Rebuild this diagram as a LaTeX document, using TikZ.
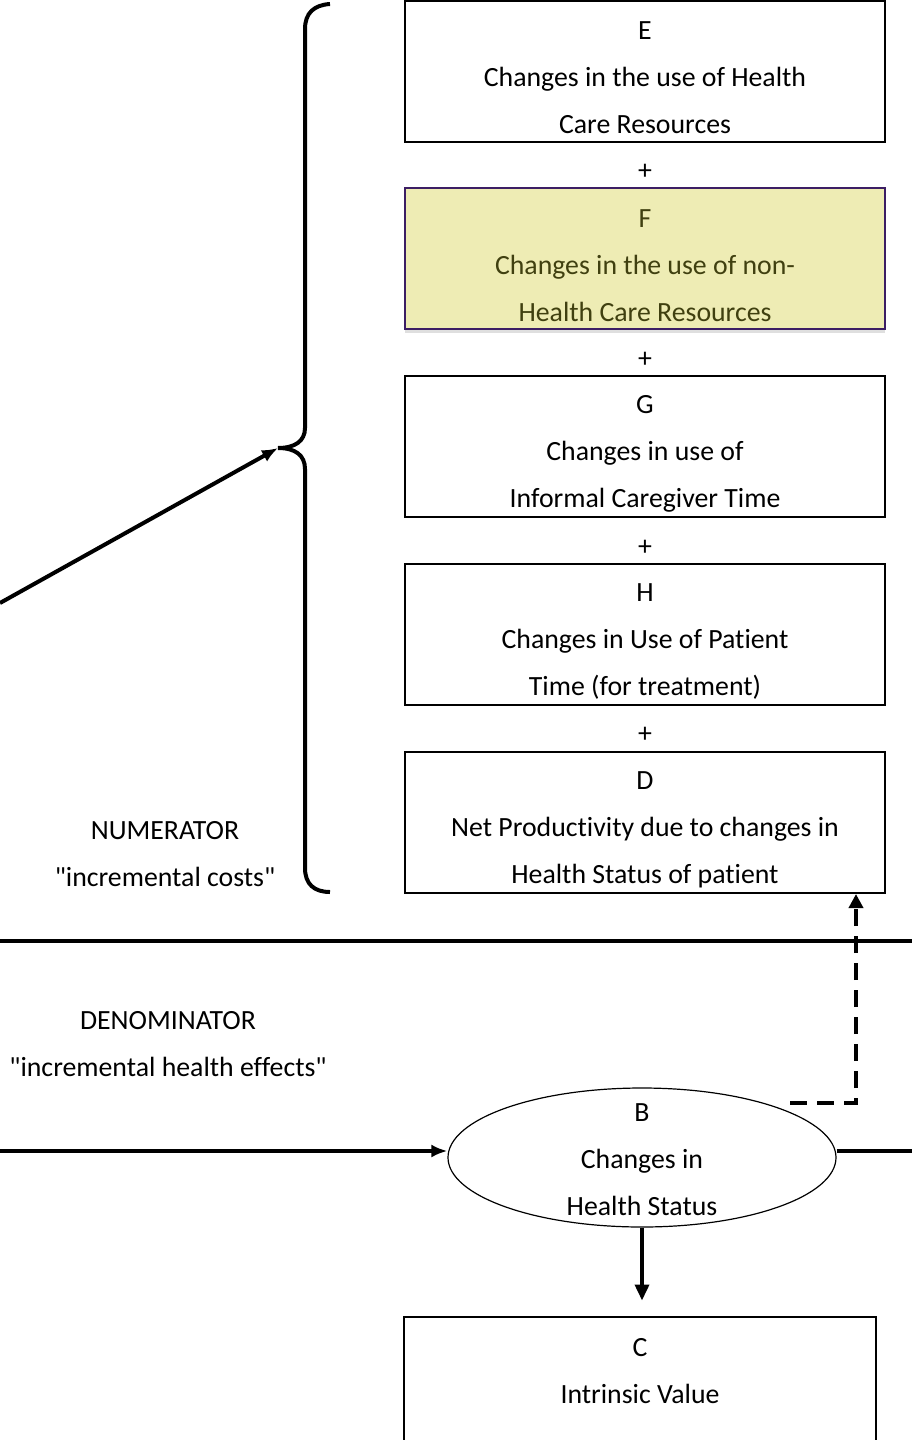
\documentclass[tikz,border=0pt]{standalone}
\usepackage{fontspec}
\setmainfont{Carlito}[Ligatures={TeX,NoCommon}, Contextuals=NoAlternate]
\usetikzlibrary{arrows.meta,shapes.geometric,shadows,calc}
\definecolor{Ffill}{RGB}{238,236,180}
\definecolor{Fdraw}{RGB}{60,30,100}
\definecolor{Ftext}{RGB}{64,64,16}
\begin{document}
\begin{tikzpicture}[x=0.5pt,y=-0.5pt,
  every node/.style={font=\fontsize{13.9}{23.5}\selectfont},
  box/.style={draw=black, line width=1pt, rectangle, minimum width=240pt, minimum height=70.5pt, inner sep=0pt},
  fbox/.style={box, draw=Fdraw, fill=Ffill, drop shadow={shadow xshift=0pt, shadow yshift=-2pt, opacity=0.25}},
  txt/.style={align=center, inner sep=0pt},
  plus/.style={inner sep=0pt},
  thickline/.style={line width=2pt},
  arr/.style={line width=2pt, -{Latex[length=8pt,width=6.5pt]}},
  dasharr/.style={line width=2pt, dash pattern=on 8.5pt off 5pt, -{Triangle[length=7pt,width=7pt]}}
]
\useasboundingbox (0,0) rectangle (912,1440);

% boxes
\node[box] (E) at (645,71) {};
\node[txt] (Et) at (645,78) {E\\Changes in the use of Health\\Care Resources};
\node[plus] (p1) at (645,172) {+};
\node[fbox] (F) at (645,258) {};
\node[txt, text=Ftext] (Ft) at (645,266) {F\\Changes in the use of non-\\Health Care Resources};
\node[plus] (p2) at (645,360) {+};
\node[box] (G) at (645,446.5) {};
\node[txt] (Gt) at (645,453.5) {G\\Changes in use of\\Informal Caregiver Time};
\node[plus] (p3) at (645,548) {+};
\node[box] (H) at (645,634.5) {};
\node[txt] (Ht) at (645,641.5) {H\\Changes in Use of Patient\\Time (for treatment)};
\node[plus] (p4) at (645,735) {+};
\node[box] (D) at (645,822.5) {};
\node[txt] (Dt) at (645,830) {D\\Net Productivity due to changes in\\Health Status of patient};

% labels
\node[txt] (num) at (165,854.5) {NUMERATOR\\\textquotedbl incremental costs\textquotedbl};
\node[txt] (den) at (168,1044.5) {DENOMINATOR\\\textquotedbl incremental health effects\textquotedbl};

% brace
\draw[thickline] (330,4) .. controls (314,5) and (305,13) .. (305,29) -- (305,428)
  .. controls (305,441) and (295,448) .. (278,448)
  .. controls (295,448) and (305,455) .. (305,469) -- (305,868)
  .. controls (305,884) and (314,892) .. (330,892);
\coordinate (cusp) at (278,448);
\coordinate (aL) at (0,603);
\draw[arr] (aL) -- (cusp);

% divider
\coordinate (divL) at (0,941);
\coordinate (divR) at (912,941);
\draw[thickline] (divL) -- (divR);

% ellipse B
\node[draw=black, line width=0.6pt, ellipse, minimum width=194pt, minimum height=69.5pt, inner sep=0pt] (B) at (642,1157.5) {};
\node[txt] (Bt) at (642,1160) {B\\Changes in\\Health Status};

\coordinate (inL) at (0,1151);
\coordinate (outR) at (912,1151);
\draw[arr] (inL) -- (inL -| B.west);
\draw[thickline] (outR -| B.east) -- (outR);

% dashed arrow to D
\coordinate (ds) at (790,1103);
\draw[dasharr] (ds) -| ($(D.south)+(211,0)$);

% C box
\node[box, minimum width=236pt] (C) at (640,1387) {};
\node[txt] (Ct) at (640,1371.5) {C\\Intrinsic Value};
\draw[line width=1.8pt, -{Triangle[length=8pt,width=7pt]}, shorten >=7.5pt] (B.south) -- (B.south |- C.north);
\end{tikzpicture}
\end{document}
